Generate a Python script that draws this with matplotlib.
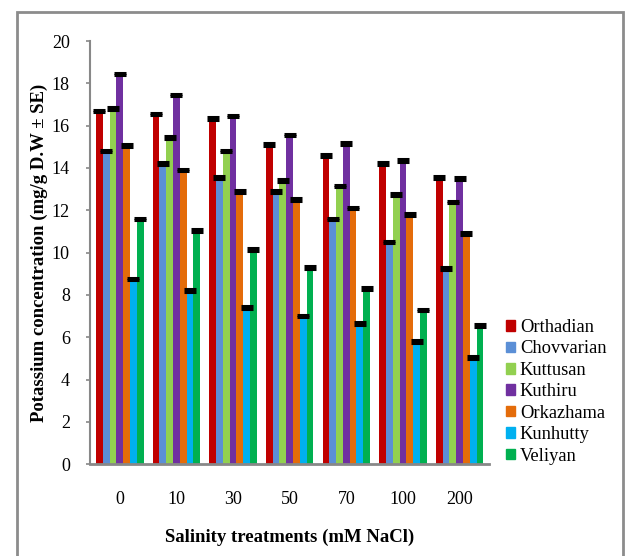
import matplotlib.pyplot as plt
import matplotlib.patches as mpatches
import numpy as np

plt.rcParams['font.family'] = ['Liberation Serif', 'DejaVu Serif']

# --- Data ---
treatments = ['0', '10', '30', '50', '70', '100', '200']
cultivars = ['Orthadian', 'Chovvarian', 'Kuttusan', 'Kuthiru', 'Orkazhama', 'Kunhutty', 'Veliyan']
colors = ['#C00000', '#5B8FD6', '#92D050', '#7030A0', '#E46C0A', '#00B0F0', '#00B050']

orthadian = [16.7, 16.55, 16.35, 15.1, 14.6, 14.2, 13.55]
chovvarian = [14.8, 14.2, 13.55, 12.9, 11.6, 10.5, 9.25]
kuttusan = [16.8, 15.45, 14.8, 13.4, 13.15, 12.75, 12.4]
kuthiru = [18.45, 17.45, 16.45, 15.55, 15.15, 14.35, 13.5]
orkazhama = [15.05, 13.9, 12.9, 12.5, 12.1, 11.8, 10.9]
kunhutty = [8.75, 8.2, 7.4, 7.0, 6.65, 5.8, 5.05]
veliyan = [11.6, 11.05, 10.15, 9.3, 8.3, 7.3, 6.55]

series = [orthadian, chovvarian, kuttusan, kuthiru, orkazhama, kunhutty, veliyan]

# --- Plot ---
fig = plt.figure(figsize=(6.28, 5.56), dpi=100)
ax = fig.add_axes([90/628, 1 - 464.3/556, (489-90)/628, (464.3-41)/556])

x = np.arange(len(treatments))
w = 0.12
for i, (name, vals, c) in enumerate(zip(cultivars, series, colors)):
    pos = x + (i - 3) * w
    ax.bar(pos, vals, width=w, color=c, label=name, zorder=2)
    ax.errorbar(pos, vals, yerr=0.06, fmt='none', ecolor='black',
                capsize=4.2, capthick=2.2, elinewidth=1, zorder=3)

ax.set_ylim(0, 20)
ax.set_yticks(range(0, 21, 2))
ax.set_xlim(-0.526, 6.52)
ax.set_xticks(x)
ax.set_xticklabels(treatments, fontsize=13)
ax.tick_params(axis='x', length=0, pad=19)
ax.tick_params(axis='y', labelsize=13, color='#888888', length=3, width=1.2, pad=11.5)

for s in ['top', 'right']:
    ax.spines[s].set_visible(False)
ax.spines['left'].set_color('#888888')
ax.spines['bottom'].set_color('#888888')
ax.spines['left'].set_linewidth(1.5)
ax.spines['bottom'].set_linewidth(2)

ax.set_ylabel('Potassium concentration (mg/g D.W ± SE)', fontsize=13.5,
              fontweight='bold', labelpad=3)
ax.set_xlabel('Salinity treatments (mM NaCl)', fontsize=13.5,
              fontweight='bold', labelpad=15)

handles = [mpatches.Patch(color=c, label=n) for n, c in zip(cultivars, colors)]
fig.legend(handles=handles, loc='upper left', bbox_to_anchor=(506/628, 1 - 319/556),
           frameon=False, fontsize=13.3, handlelength=0.5, handleheight=0.5,
           handletextpad=0.25, labelspacing=0.24, borderaxespad=0, borderpad=0)

# outer border (bottom edge lies outside the image)
fig.patches.append(mpatches.Rectangle((17/628, -0.05), (622.5-17)/628, 1.05 - 12/556,
                                      transform=fig.transFigure, fill=False,
                                      edgecolor='#8c8c8c', linewidth=2))

plt.savefig('out.png', dpi=100, facecolor='white')
